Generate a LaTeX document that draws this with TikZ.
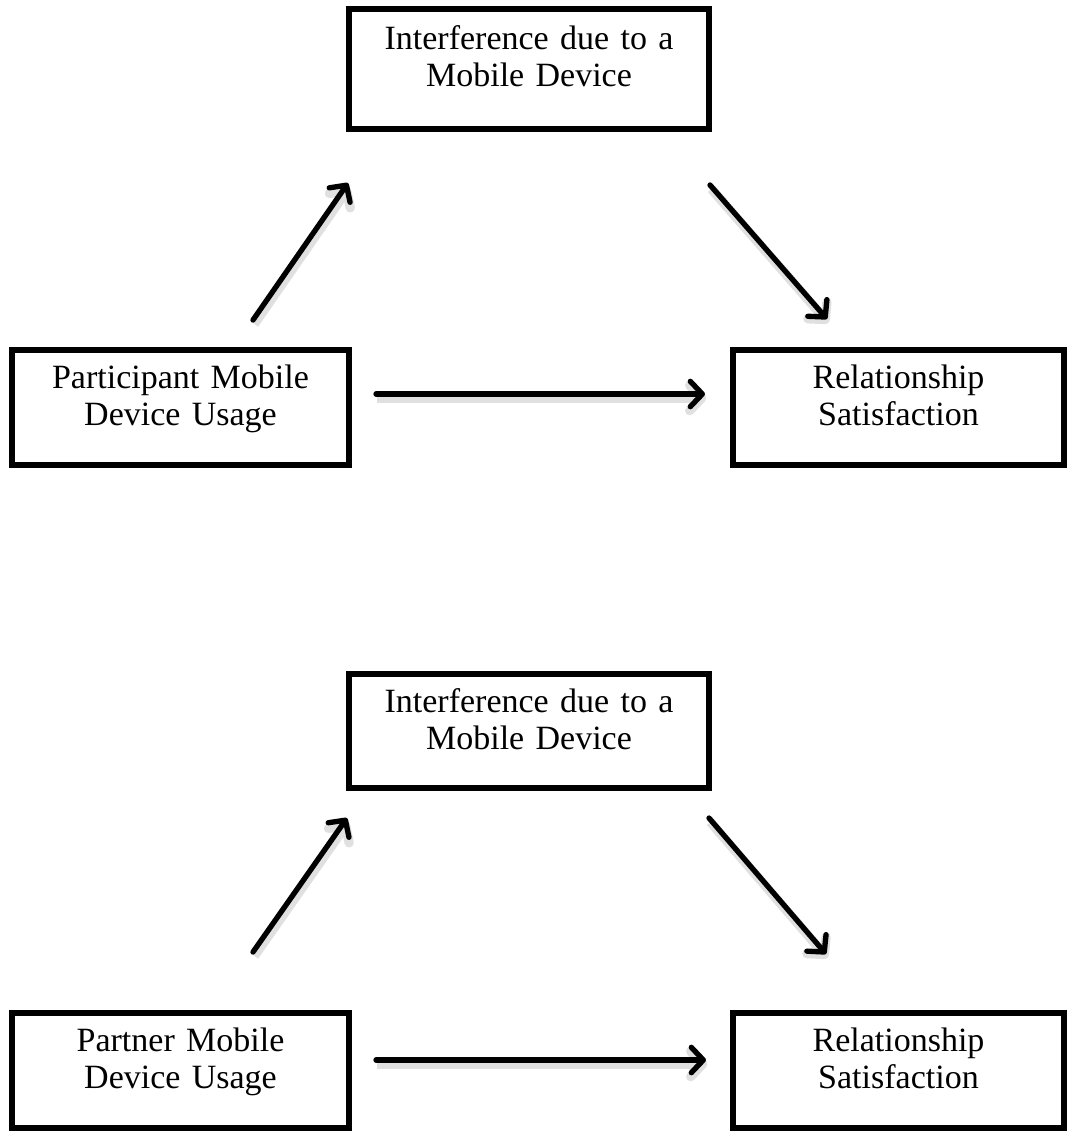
\documentclass[tikz,border=0pt]{standalone}
\usepackage{fontspec}
\setmainfont{Liberation Serif}
\usetikzlibrary{arrows.meta}
\begin{document}
\begin{tikzpicture}[x=.75pt,y=-.75pt,
  box/.style={draw,line width=4.5pt,align=center,text width=240pt,inner sep=0pt,
    text height=18pt,text depth=46.5pt,font=\fontsize{25.5}{27.75}\selectfont},
  arr/.style={line width=4pt,line cap=round,
    preaction={draw=black!12,line width=7pt,transform canvas={shift={(1pt,-3pt)}}},
    -{Straight Barb[length=9pt,width=19pt,line cap=round,line join=round]}}]
\useasboundingbox(0,0)rectangle(1067,1131);
\node[box,minimum width=270pt,minimum height=90pt](intf1)at(529,69){Interference due to a\\Mobile Device};
\node[box,minimum width=252.75pt,minimum height=86.25pt](part1)at(180.5,407.5){Participant Mobile\\Device Usage};
\node[box,minimum width=248.25pt,minimum height=86.25pt](rel1)at(898.5,407.5){Relationship\\Satisfaction};
\draw[arr]([shift={(72.5,-27)}]part1.north)--([shift={(-181,51)}]intf1.south);
\draw[arr]([shift={(181,53)}]intf1.south)--([shift={(-71.5,-28)}]rel1.north);
\draw[arr]([shift={(24,-13.5)}]part1.east)--([shift={(-25,-13.5)}]rel1.west);
\node[box,minimum width=270pt,minimum height=85.5pt](intf2)at(529,731){Interference due to a\\Mobile Device};
\node[box,minimum width=252.75pt,minimum height=86.25pt](part2)at(180.5,1070.5){Partner Mobile\\Device Usage};
\node[box,minimum width=248.25pt,minimum height=86.25pt](rel2)at(898.5,1070.5){Relationship\\Satisfaction};
\draw[arr]([shift={(72.5,-58)}]part2.north)--([shift={(-182,27)}]intf2.south);
\draw[arr]([shift={(180,27)}]intf2.south)--([shift={(-72.5,-56)}]rel2.north);
\draw[arr]([shift={(24,-10.5)}]part2.east)--([shift={(-24,-10.5)}]rel2.west);
\end{tikzpicture}
\end{document}
